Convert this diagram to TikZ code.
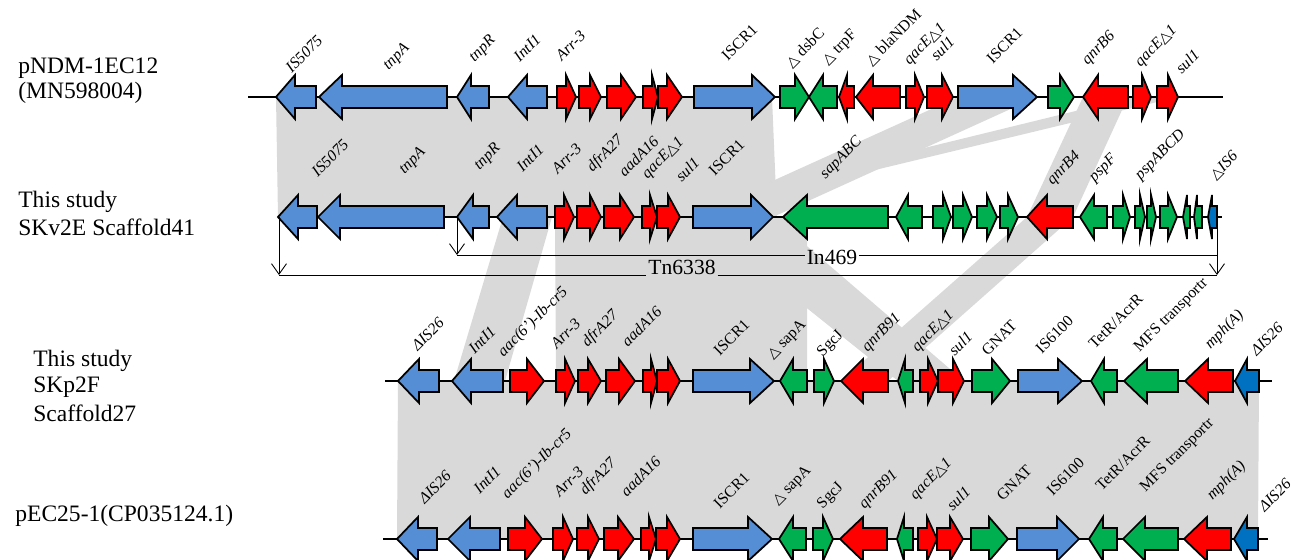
\documentclass[tikz,border=0pt]{standalone}
\usepackage{fontspec}
\setmainfont{Liberation Serif}
\newfontfamily\symfont{DejaVu Sans}
\usetikzlibrary{arrows.meta}

\definecolor{geneblue}{RGB}{85,142,213}
\definecolor{genered}{RGB}{255,0,0}
\definecolor{genegreen}{RGB}{0,176,80}
\definecolor{isblue}{RGB}{0,112,192}
\definecolor{bandgrey}{RGB}{217,217,217}

\newcommand{\tri}{{\symfont\fontsize{8.3}{9}\selectfont △}}

\begin{document}
\begin{tikzpicture}[x=0.02cm,y=-0.02cm,
  gene/.style={draw=black,line width=1pt,line join=miter},
  backbone/.style={line width=0.8pt},
  glab/.style={rotate=45,anchor=south west,inner sep=0pt,font=\fontsize{9}{10}\selectfont},
  title/.style={anchor=west,inner sep=0pt,font=\fontsize{13.4}{16}\selectfont},
  span/.style={line width=0.5pt},
  spanend/.style={line width=0.5pt,-{Straight Barb[length=6pt,width=8.5pt]}},
  spanlab/.style={inner sep=1pt,font=\fontsize{12.3}{14}\selectfont}]

\useasboundingbox (0,0) rectangle (1303,560);

% homology bands
\fill[bandgrey] (276,97) -- (772,97) -- (777,217) -- (278,217) -- cycle;
\fill[bandgrey] (958,97) -- (1037,97) -- (773,217) -- (693,217) -- cycle;
\fill[bandgrey] (1083,97) -- (1128,97) -- (1073,217) -- (1027,217) -- cycle;
\fill[bandgrey] (1133,97) -- (1178,97) -- (680,217) -- (642,217) -- cycle;
\fill[bandgrey] (1027,217) -- (1073,217) -- (888,381) -- (841,381) -- cycle;
\fill[bandgrey] (693,217) -- (773,217) -- (964,381) -- (898,381) -- cycle;
\fill[bandgrey] (555,217) -- (807,217) -- (807,381) -- (556,381) -- cycle;
\fill[bandgrey] (503,217) -- (552,217) -- (505,381) -- (454,381) -- cycle;
\fill[bandgrey] (398,381) -- (1259,381) -- (1258,539) -- (397,539) -- cycle;

% row titles
\node[title] (t1a) at (18,68) {pNDM-1EC12};
\node[title] (t1b) at (18,93) {(MN598004)};
\node[title] (t2a) at (18,202) {This study};
\node[title] (t2b) at (18,227) {SKv2E Scaffold41};
\node[title] (t3a) at (33,361) {This study};
\node[title] (t3b) at (33,387) {SKp2F};
\node[title] (t3c) at (33,413) {Scaffold27};
\node[title] (t4a) at (15,516) {pEC25-1(CP035124.1)};

% pNDM-1EC12
\def\ry{97}
\draw[backbone] (248,\ry) -- (1223,\ry);
\foreach \e/\h/\t/\c in {316/295/276/geneblue, 447/342/319/geneblue, 489/471/457/geneblue,
  547/527/508/geneblue, 557/566/576/genered, 579/590/601/genered, 607/621/636/genered,
  643/652/658/genered, 658/667/682/genered, 694/752/775/geneblue, 780/795/809/genegreen,
  837/823/809/genegreen, 854/847/839/genered, 900/873/856/genered, 906/915/924/genered,
  927/942/953/genered, 958/1013/1037/geneblue, 1048/1060/1074/genegreen,
  1128/1098/1083/genered, 1133/1142/1151/genered, 1157/1168/1178/genered}
  \filldraw[gene,fill=\c] (\e,\ry-11) -- (\h,\ry-11) -- (\h,\ry-22) -- (\t,\ry)
    -- (\h,\ry+22) -- (\h,\ry+11) -- (\e,\ry+11) -- cycle;
\foreach \x/\y/\s [count=\i] in {292/74/{\textit{IS5075}}, 391/73/{\textit{tnpA}},
  477/65/{\textit{tnpR}}, 520/63/{\textit{IntI1}}, 562/62/{\textit{Arr-3}}, 728/62/{ISCR1},
  793/70/{\tri\ dsbC}, 830/68/{\tri\ trpF}, 873/68/{\tri\ blaNDM},
  912/68/{\textit{qacE}\tri\textit{1}}, 937/62/{\textit{sul1}}, 993/65/{ISCR1},
  1090/68/{\textit{qnrB6}}, 1143/70/{\textit{qacE}\tri\textit{1}}, 1182/75/{\textit{sul1}}}
  \node[glab] (a\i) at (\x,\y) {\s};

% SKv2E Scaffold41
\def\ry{217}
\draw[backbone] (278,\ry) -- (1222,\ry);
\foreach \e/\h/\t/\c in {317/298/278/geneblue, 444/340/318/geneblue, 489/473/457/geneblue,
  547/517/497/geneblue, 555/564/574/genered, 577/590/601/genered, 604/620/634/genered,
  642/650/657/genered, 657/668/680/genered, 693/751/773/geneblue, 888/807/783/genegreen,
  922/908/896/genegreen, 933/943/951/genegreen, 953/963/972/genegreen, 977/987/997/genegreen,
  1000/1008/1018/genegreen, 1073/1047/1027/genered, 1107/1094/1080/genegreen,
  1113/1123/1130/genegreen, 1135/1140/1145/genegreen, 1147/1151/1156/genegreen,
  1160/1168/1177/genegreen, 1190/1187/1183/genegreen, 1202/1197/1194/genegreen,
  1217/1212/1208/isblue}
  \filldraw[gene,fill=\c] (\e,\ry-11) -- (\h,\ry-11) -- (\h,\ry-22) -- (\t,\ry)
    -- (\h,\ry+22) -- (\h,\ry+11) -- (\e,\ry+11) -- cycle;
\foreach \x/\y/\s [count=\i] in {318/178/{\textit{IS5075}}, 407/177/{\textit{tnpA}},
  482/173/{\textit{tnpR}}, 523/173/{\textit{IntI1}}, 558/175/{\textit{Arr-3}},
  595/175/{\textit{dfrA27}}, 625/178/{\textit{aadA16}}, 650/182/{\textit{qacE}\tri\textit{1}},
  682/183/{\textit{sul1}}, 715/177/{ISCR1}, 828/182/{\textit{sapABC}},
  1055/188/{\textit{qnrB4}}, 1097/185/{\textit{pspF}}, 1143/183/{\textit{pspABCD}},
  1217/182/{\tri\textit{IS6}}}
  \node[glab] (b\i) at (\x,\y) {\s};

% In469 and Tn6338
\coordinate (inTop) at (457,217);
\coordinate (inFoot) at (457,255);
\coordinate (inEnd) at (1217,255);
\coordinate (tnTop) at (279,217);
\coordinate (tnFoot) at (279,275);
\coordinate (tnRTop) at (1217,217);
\coordinate (tnEnd) at (1217,275);
\node[spanlab] (in469) at (832,257) {In469};
\node[spanlab,anchor=base] (tn6338) at (682,275) {Tn6338};
\draw[spanend] (inTop) -- (inFoot);
\draw[span] (inFoot) -- (inFoot -| in469.west);
\draw[span] (inEnd -| in469.east) -- (inEnd);
\draw[spanend] (tnTop) -- (tnFoot);
\draw[spanend] (tnRTop) -- (tnEnd);
\draw[span] (tnFoot) -- (tnFoot -| tn6338.west);
\draw[span] (tnEnd -| tn6338.east) -- (tnEnd);

% SKp2F Scaffold27
\def\ry{381}
\draw[backbone] (385,\ry) -- (1272,\ry);
\foreach \e/\h/\t/\c in {439/419/398/geneblue, 503/471/452/geneblue, 510/527/544/genered,
  556/565/575/genered, 578/588/601/genered, 606/619/635/genered, 643/651/657/genered,
  657/668/680/genered, 693/750/774/geneblue, 807/793/780/genegreen, 814/824/834/genegreen,
  888/863/841/genered, 913/905/898/genegreen, 920/928/938/genered, 938/953/964/genered,
  972/992/1010/genegreen, 1018/1058/1082/geneblue, 1117/1104/1091/genegreen,
  1178/1147/1124/genegreen, 1233/1208/1185/genered, 1259/1247/1235/isblue}
  \filldraw[gene,fill=\c] (\e,\ry-11) -- (\h,\ry-11) -- (\h,\ry-22) -- (\t,\ry)
    -- (\h,\ry+22) -- (\h,\ry+11) -- (\e,\ry+11) -- cycle;
\foreach \x/\y/\s [count=\i] in {418/352/{\textit{ΔIS26}}, 475/355/{\textit{IntI1}},
  506/360/{\textit{aac(6')-Ib-cr5}}, 557/350/{\textit{Arr-3}}, 590/350/{\textit{dfrA27}},
  628/348/{\textit{aadA16}}, 720/357/{ISCR1}, 775/362/{\tri\ sapA}, 825/360/{SgcJ},
  870/355/{\textit{qnrB91}}, 920/355/{\textit{qacE}\tri\textit{1}}, 955/357/{\textit{sul1}},
  988/357/{GNAT}, 1042/355/{IS6100}, 1095/350/{TetR/AcrR}, 1142/355/{MFS transportr},
  1213/352/{\textit{mph(A)}}, 1257/357/{\textit{ΔIS26}}}
  \node[glab] (c\i) at (\x,\y) {\s};

% pEC25-1
\def\ry{539}
\draw[backbone] (383,\ry) -- (1268,\ry);
\foreach \e/\h/\t/\c in {437/418/397/geneblue, 500/470/448/geneblue, 508/525/542/genered,
  553/563/573/genered, 577/588/599/genered, 604/618/634/genered, 641/649/656/genered,
  656/667/680/genered, 693/748/772/geneblue, 806/793/779/genegreen, 813/823/833/genegreen,
  887/863/840/genered, 913/904/897/genegreen, 918/927/937/genered, 937/950/963/genered,
  971/989/1008/genegreen, 1017/1057/1079/geneblue, 1117/1103/1089/genegreen,
  1178/1145/1123/genegreen, 1231/1207/1184/genered, 1258/1247/1234/isblue}
  \filldraw[gene,fill=\c] (\e,\ry-11) -- (\h,\ry-11) -- (\h,\ry-22) -- (\t,\ry)
    -- (\h,\ry+22) -- (\h,\ry+11) -- (\e,\ry+11) -- cycle;
\foreach \x/\y/\s [count=\i] in {425/505/{\textit{ΔIS26}}, 480/495/{\textit{IntI1}},
  510/502/{\textit{aac(6')-Ib-cr5}}, 560/498/{\textit{Arr-3}}, 588/498/{\textit{dfrA27}},
  627/498/{\textit{aadA16}}, 720/510/{ISCR1}, 780/508/{\tri\ sapA}, 825/512/{SgcJ},
  867/512/{\textit{qnrB91}}, 918/503/{\textit{qacE}\tri\textit{1}}, 953/512/{\textit{sul1}},
  1003/502/{GNAT}, 1053/497/{IS6100}, 1102/492/{TetR/AcrR}, 1148/495/{MFS transportr},
  1215/503/{\textit{mph(A)}}, 1265/513/{\textit{ΔIS26}}}
  \node[glab] (d\i) at (\x,\y) {\s};

\end{tikzpicture}
\end{document}
